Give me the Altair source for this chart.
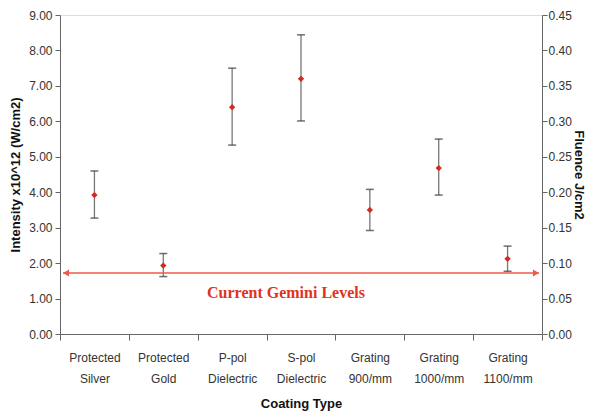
import altair as alt
import pandas as pd

categories = ["Protected Silver", "Protected Gold", "P-pol Dielectric", "S-pol Dielectric",
              "Grating 900/mm", "Grating 1000/mm", "Grating 1100/mm"]
center = [3.92, 1.93, 6.40, 7.20, 3.50, 4.68, 2.12]
upper = [4.60, 2.27, 7.50, 8.44, 4.08, 5.50, 2.48]
lower = [3.27, 1.62, 5.33, 6.01, 2.92, 3.92, 1.77]
left_ticks = [0, 1, 2, 3, 4, 5, 6, 7, 8, 9]
right_ticks = [0, 0.05, 0.1, 0.15, 0.2, 0.25, 0.3, 0.35, 0.4, 0.45]
gemini_level = 1.72
fluence_per_intensity = 0.05

df = pd.DataFrame({"cat": categories, "center": center, "upper": upper, "lower": lower})

font = "Liberation Sans"
xaxis = alt.Axis(labelAngle=0, labelExpr="split(datum.label, ' ')", tickBand="extent",
                 labelFontSize=12, labelColor="#333", labelFont=font, labelPadding=12,
                 labelLineHeight=21, titleFont=font, titleFontSize=13, titleColor="#111",
                 titlePadding=13, domainColor="#666", tickColor="#666", tickSize=6)
xenc = alt.X("cat:N", sort=categories, title="Coating Type",
             scale=alt.Scale(paddingInner=0, paddingOuter=0), axis=xaxis)
yscale = alt.Scale(domain=[0, 9], nice=False)
yaxis = alt.Axis(values=left_ticks, tickCount=10, labelOverlap=False, format=".2f", grid=False,
                 labelFontSize=12, labelColor="#333", labelFont=font, titleFont=font,
                 titleFontSize=13, titleColor="#111", titlePadding=6, domainColor="#666",
                 tickColor="#666", tickSize=5, labelPadding=3)
ytitle = "Intensity x10^12 (W/cm2)"


def Y(field):
    return alt.Y(field, scale=yscale, axis=yaxis, title=ytitle)


base = alt.Chart(df)

bars = base.mark_rule(color="#777", strokeWidth=1.3).encode(x=xenc, y=Y("lower:Q"), y2="upper:Q")
capsU = base.mark_tick(color="#333", thickness=1.5, size=8, orient="horizontal").encode(
    x=xenc, y=Y("upper:Q"))
capsL = base.mark_tick(color="#333", thickness=1.5, size=8, orient="horizontal").encode(
    x=xenc, y=Y("lower:Q"))
pts = base.mark_point(shape="diamond", filled=True, color="#d42a1e", size=40, opacity=1).encode(
    x=xenc, y=Y("center:Q"))

line_df = pd.DataFrame({"lvl": [gemini_level]})
line = alt.Chart(line_df).mark_rule(color="#ee5a4a", strokeWidth=1.5).encode(
    y=Y("lvl:Q"), x=alt.value(3), x2=alt.value(479))
arrL = alt.Chart(line_df).mark_point(shape="triangle-left", filled=True, color="#ee5a4a",
                                     size=50, opacity=1).encode(y=Y("lvl:Q"), x=alt.value(6))
arrR = alt.Chart(line_df).mark_point(shape="triangle-right", filled=True, color="#ee5a4a",
                                     size=50, opacity=1).encode(y=Y("lvl:Q"), x=alt.value(476))
label = alt.Chart(pd.DataFrame({"t": ["Current Gemini Levels"], "yy": [1.15]})).mark_text(
    font="Liberation Serif", fontWeight="bold", fontSize=16, color="#e0321f").encode(
    text="t:N", y=Y("yy:Q"), x=alt.value(226))

left = alt.layer(bars, capsU, capsL, pts, line, arrL, arrR, label)

right = base.transform_calculate(fl=f"datum.center * {fluence_per_intensity}").mark_point(opacity=0).encode(
    x=xenc,
    y=alt.Y("fl:Q", scale=alt.Scale(domain=[0, 0.45], nice=False), title="Fluence J/cm2",
            axis=alt.Axis(orient="right", values=right_ticks, tickCount=10, labelOverlap=False,
                          format=".2f", grid=False, labelFontSize=12, labelColor="#333",
                          labelFont=font, titleFont=font, titleFontSize=13, titleColor="#111",
                          titlePadding=0, domainColor="#666", tickColor="#666", tickSize=5,
                          labelPadding=1)))

chart = alt.layer(left, right).resolve_scale(y="independent").properties(
    width=482, height=319,
    autosize=alt.AutoSizeParams(type="none"),
    padding={"left": 52, "top": 7, "right": 46, "bottom": 84},
).configure_view(stroke="#777", strokeWidth=1.2).configure(background="white")

chart.save("out.html", embed_options={"renderer": "svg", "actions": False})
